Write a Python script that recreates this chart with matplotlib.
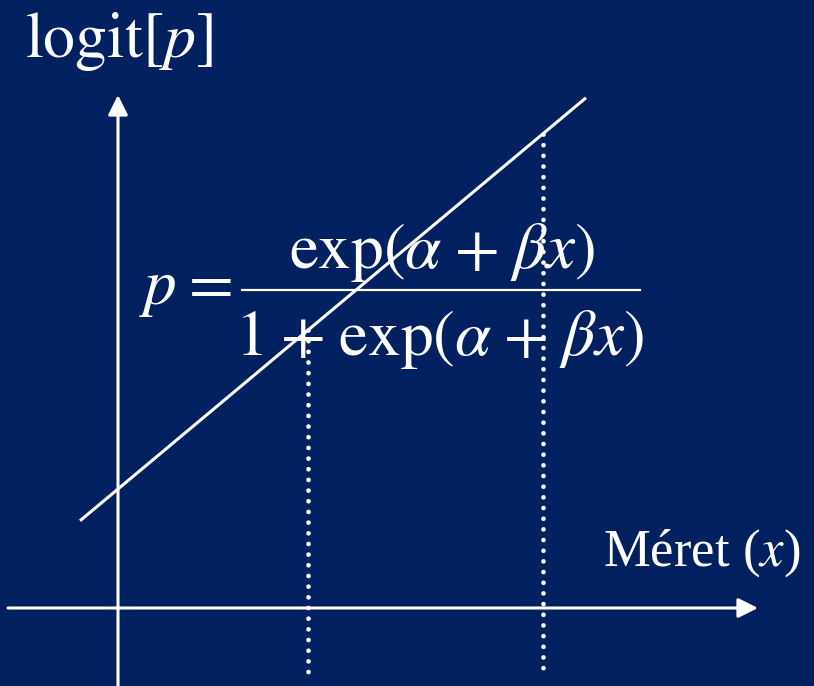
import numpy as np
import matplotlib
matplotlib.use("Agg")
import matplotlib.pyplot as plt
from matplotlib.lines import Line2D

plt.rcParams['mathtext.fontset'] = 'stix'
plt.rcParams['font.family'] = ['Liberation Serif', 'DejaVu Serif']

# linear predictor on the logit scale: logit[p] = alpha + beta * x
alpha = 1.19
beta = 0.836
x_line = np.array([-0.38, 4.68])
x_marks = [1.90, 4.25]      # two sizes marked with dotted guides
y_floor = -0.64             # where the dotted guides stop

bg = '#002060'
fg = 'white'
W, H = 814, 686

fig = plt.figure(figsize=(W / 100, H / 100), dpi=100, facecolor=bg)
ax = fig.add_axes([0, 0, 1, 1])
ax.set_facecolor(bg)
ax.set_xlim(-1.18, 6.96)
ax.set_ylim(-0.78, 6.08)
ax.axis('off')

# axes with arrow heads
arrow = dict(arrowstyle='-|>,head_length=0.6,head_width=0.3', color=fg,
             lw=2.2, mutation_scale=20, shrinkA=0, shrinkB=0)
ax.annotate('', xy=(6.40, 0), xytext=(-1.10, 0), arrowprops=arrow)
ax.annotate('', xy=(0, 5.13), xytext=(0, -0.78), arrowprops=arrow)

# the fitted line
ax.plot(x_line, alpha + beta * x_line, color=fg, lw=2.2, solid_capstyle='butt')

# dotted guides from the line down past the x axis
for xm in x_marks:
    ax.plot([xm, xm], [alpha + beta * xm, y_floor], color=fg, lw=3.4,
            linestyle=(0, (0.01, 2.25)), dash_capstyle='round')


def px(x, y):
    return x / W, 1 - y / H


fig.text(*px(25, 57), r'$\mathrm{logit}[p]$', color=fg,
         fontsize=46, ha='left', va='baseline')
fig.text(*px(603, 566), 'Méret ($x$)', color=fg,
         fontsize=38, ha='left', va='baseline')

# logistic formula: p = exp(a + bx) / (1 + exp(a + bx))
sp = r'\hspace{0.08}'
lin = r'\mathrm{exp}(\alpha' + sp + '+' + sp + r'\beta x)'
fig.text(*px(139, 304), r'$p\hspace{0.05}=$', color=fg,
         fontsize=47, ha='left', va='baseline')
fig.text(*px(442, 268), '$' + lin + '$', color=fg,
         fontsize=47, ha='center', va='baseline')
fig.text(*px(440, 355), '$1' + sp + '+' + sp + lin + '$', color=fg,
         fontsize=47, ha='center', va='baseline')
fig.add_artist(Line2D([242 / W, 640 / W], [1 - 290 / H] * 2, color=fg,
                      lw=1.6, transform=fig.transFigure))

fig.savefig('out.png', dpi=100, facecolor=bg)
